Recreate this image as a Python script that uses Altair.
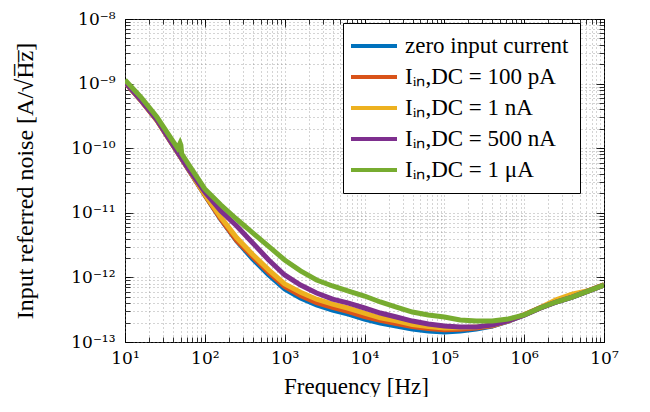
import altair as alt
import pandas as pd

# ---------------- data ----------------
freq = [10, 15.8, 25.1, 39.8, 63.1, 100, 158, 251, 398, 631,
        1e3, 1.58e3, 2.51e3, 3.98e3, 6.31e3, 1e4, 1.58e4, 2.51e4, 3.98e4, 6.31e4,
        1e5, 1.58e5, 2.51e5, 3.98e5, 6.31e5, 1e6, 1.58e6, 2.51e6, 3.98e6, 6.31e6, 1e7]

freq_green = [10, 15.8, 25.1, 39.8, 45.7, 49.0, 50.1, 51.3, 63.1, 100, 158, 251, 398, 631,
              1e3, 1.58e3, 2.51e3, 3.98e3, 6.31e3, 1e4, 1.58e4, 2.51e4, 3.98e4, 6.31e4,
              1e5, 1.58e5, 2.51e5, 3.98e5, 6.31e5, 1e6, 1.58e6, 2.51e6, 3.98e6, 6.31e6, 1e7]

noise_zero = [1.06e-9, 5.57e-10, 2.74e-10, 1.12e-10, 4.60e-11, 1.89e-11, 8.02e-12, 3.66e-12, 1.93e-12, 1.09e-12,
              6.61e-13, 4.80e-13, 3.74e-13, 3.13e-13, 2.71e-13, 2.27e-13, 1.97e-13, 1.77e-13, 1.59e-13, 1.48e-13,
              1.43e-13, 1.48e-13, 1.59e-13, 1.77e-13, 2.11e-13, 2.62e-13, 3.36e-13, 4.16e-13, 4.97e-13, 6.15e-13, 7.62e-13]

noise_100p = [1.05e-9, 5.52e-10, 2.72e-10, 1.12e-10, 4.62e-11, 1.90e-11, 8.10e-12, 3.72e-12, 2.09e-12, 1.19e-12,
              7.24e-13, 5.25e-13, 4.07e-13, 3.43e-13, 2.95e-13, 2.48e-13, 2.16e-13, 1.93e-13, 1.74e-13, 1.62e-13,
              1.55e-13, 1.58e-13, 1.64e-13, 1.78e-13, 2.12e-13, 2.64e-13, 3.38e-13, 4.20e-13, 5.00e-13, 6.18e-13, 7.65e-13]

noise_1n = [1.04e-9, 5.50e-10, 2.70e-10, 1.11e-10, 4.62e-11, 1.93e-11, 8.59e-12, 4.10e-12, 2.26e-12, 1.31e-12,
            7.94e-13, 5.90e-13, 4.60e-13, 3.85e-13, 3.33e-13, 2.79e-13, 2.37e-13, 2.13e-13, 1.87e-13, 1.74e-13,
            1.64e-13, 1.66e-13, 1.70e-13, 1.81e-13, 2.13e-13, 2.64e-13, 3.40e-13, 4.50e-13, 5.50e-13, 6.20e-13, 7.70e-13]

noise_500n = [1.05e-9, 5.55e-10, 2.73e-10, 1.12e-10, 4.65e-11, 2.10e-11, 1.07e-11, 6.24e-12, 3.41e-12, 1.86e-12,
              1.09e-12, 7.60e-13, 5.74e-13, 4.62e-13, 4.01e-13, 3.36e-13, 2.81e-13, 2.44e-13, 2.11e-13, 1.90e-13,
              1.77e-13, 1.71e-13, 1.71e-13, 1.83e-13, 2.12e-13, 2.60e-13, 3.34e-13, 4.14e-13, 4.95e-13, 6.12e-13, 7.58e-13]

noise_1u = [1.14e-9, 6.19e-10, 3.04e-10, 1.29e-10, 1.00e-10, 1.20e-10, 1.12e-10, 8.20e-11, 5.50e-11, 2.34e-11,
            1.33e-11, 7.94e-12, 4.90e-12, 3.02e-12, 1.86e-12, 1.26e-12, 9.12e-13, 7.36e-13, 6.15e-13, 5.15e-13,
            4.16e-13, 3.48e-13, 2.91e-13, 2.62e-13, 2.44e-13, 2.19e-13, 2.11e-13, 2.11e-13, 2.27e-13, 2.62e-13,
            3.36e-13, 4.16e-13, 4.97e-13, 6.15e-13, 7.62e-13]

series_names = ["zero input current",
                "Iᵢₙ,DC = 100 pA",
                "Iᵢₙ,DC = 1 nA",
                "Iᵢₙ,DC = 500 nA",
                "Iᵢₙ,DC = 1 μA"]
series_colors = ["#0072BD", "#D95319", "#EDB120", "#7E2F8E", "#77AC30"]

x_tick_labels = ["10¹", "10²", "10³", "10⁴", "10⁵", "10⁶", "10⁷"]
y_tick_labels = ["10⁻¹³", "10⁻¹²", "10⁻¹¹", "10⁻¹⁰", "10⁻⁹", "10⁻⁸"]

# ---------------- table ----------------
rows = []
for name, fl, vl in zip(series_names,
                        [freq, freq, freq, freq, freq_green],
                        [noise_zero, noise_100p, noise_1n, noise_500n, noise_1u]):
    for f, v in zip(fl, vl):
        rows.append({"series": name, "f": f, "v": v})
df = pd.DataFrame(rows)

x_major = [10 ** k for k in range(1, 8)]
x_minor = [m * 10 ** k for k in range(1, 7) for m in range(1, 10)] + [10 ** 7]
y_major = [10.0 ** k for k in range(-13, -7)]
y_minor = [m * 10.0 ** k for k in range(-13, -8) for m in range(1, 10)] + [1e-8]

x_label_expr = "[" + ",".join("'%s'" % s for s in x_tick_labels) + "][round(log(datum.value)/LN10) - 1]"
y_label_expr = "[" + ",".join("'%s'" % s for s in y_tick_labels) + "][round(log(datum.value)/LN10) + 13]"

FONT = "Liberation Serif"
TICKFONT = "DejaVu Serif"
xs = alt.Scale(type="log", domain=[10, 1e7], nice=False)
ys = alt.Scale(type="log", domain=[1e-13, 1e-8], nice=False)

GRID = dict(grid=True, gridDash=[1, 3], gridColor="#858585", gridWidth=0.7)
TICK = dict(tickColor="black", tickWidth=0.8, domain=False)


def minor_axis(orient, values, grid):
    kw = dict(orient=orient, values=values, labels=False, title=None,
              tickSize={"expr": "-5"}, **TICK)
    if grid:
        kw.update(GRID)
    else:
        kw["grid"] = False
    return alt.Axis(**kw)


def major_axis_plain(orient, values):
    return alt.Axis(orient=orient, values=values, labels=False, title=None,
                    tickSize={"expr": "-8"}, grid=False, **TICK)


base = alt.Chart(df)

lines = base.mark_line(strokeWidth=5, clip=True).encode(
    x=alt.X("f:Q", scale=xs, axis=minor_axis("bottom", x_minor, True)),
    y=alt.Y("v:Q", scale=ys, axis=minor_axis("left", y_minor, True)),
    color=alt.Color(
        "series:N",
        scale=alt.Scale(domain=series_names, range=series_colors),
        legend=alt.Legend(
            title=None, orient="none", legendX=218, legendY=4, direction="vertical",
            symbolType="M-2.3,0H2.3", symbolSize=400, symbolStrokeWidth=4, symbolOffset=8,
            labelFont=FONT, labelFontSize=23, labelColor="black", labelOffset=19, labelLimit=400,
            rowPadding=7, padding=11, strokeColor="black", fillColor="white", cornerRadius=0,
        ),
    ),
)

major_bl = base.mark_line(opacity=0).encode(
    x=alt.X("f:Q", scale=xs, axis=alt.Axis(
        orient="bottom", values=x_major, labelExpr=x_label_expr, labelFont=TICKFONT, labelFontSize=17,
        labelColor="black", labelPadding=16, labelFlush=False, labelOverlap=False, labelBound=False,
        tickSize={"expr": "-8"}, grid=False,
        title="Frequency [Hz]", titleFont=FONT, titleFontSize=23, titleFontWeight="normal",
        titleColor="black", titleX=231, titleY=33, **TICK)),
    y=alt.Y("v:Q", scale=ys, axis=alt.Axis(
        orient="left", values=y_major, labelExpr=y_label_expr, labelFont=TICKFONT, labelFontSize=17,
        labelColor="black", labelPadding=18, labelFlush=False, labelOverlap=False, labelBound=False,
        tickSize={"expr": "-8"}, grid=False,
        title="Input referred noise [A/√H\u0305z\u0305]", titleFont=FONT, titleFontSize=24,
        titleFontWeight="normal", titleColor="black", titleX=-88, titleY=161.5,
        titleAngle=270, titleAlign="center", titleBaseline="bottom", **TICK)),
    detail="series:N",
)

minor_tr = base.mark_line(opacity=0).encode(
    x=alt.X("f:Q", scale=xs, axis=minor_axis("top", x_minor, False)),
    y=alt.Y("v:Q", scale=ys, axis=minor_axis("right", y_minor, False)),
    detail="series:N",
)

major_tr = base.mark_line(opacity=0).encode(
    x=alt.X("f:Q", scale=xs, axis=major_axis_plain("top", x_major)),
    y=alt.Y("v:Q", scale=ys, axis=major_axis_plain("right", y_major)),
    detail="series:N",
)

chart = (
    alt.layer(lines, major_bl, minor_tr, major_tr)
    .resolve_axis(x="independent", y="independent")
    .properties(
        width=479, height=323,
        padding={"left": 117, "top": 11, "right": 30, "bottom": 55},
        autosize=alt.AutoSizeParams(type="none"),
        background="white",
    )
    .configure_view(stroke="black", strokeWidth=1)
)

chart.save("out.html", embed_options={"renderer": "svg", "actions": False})
